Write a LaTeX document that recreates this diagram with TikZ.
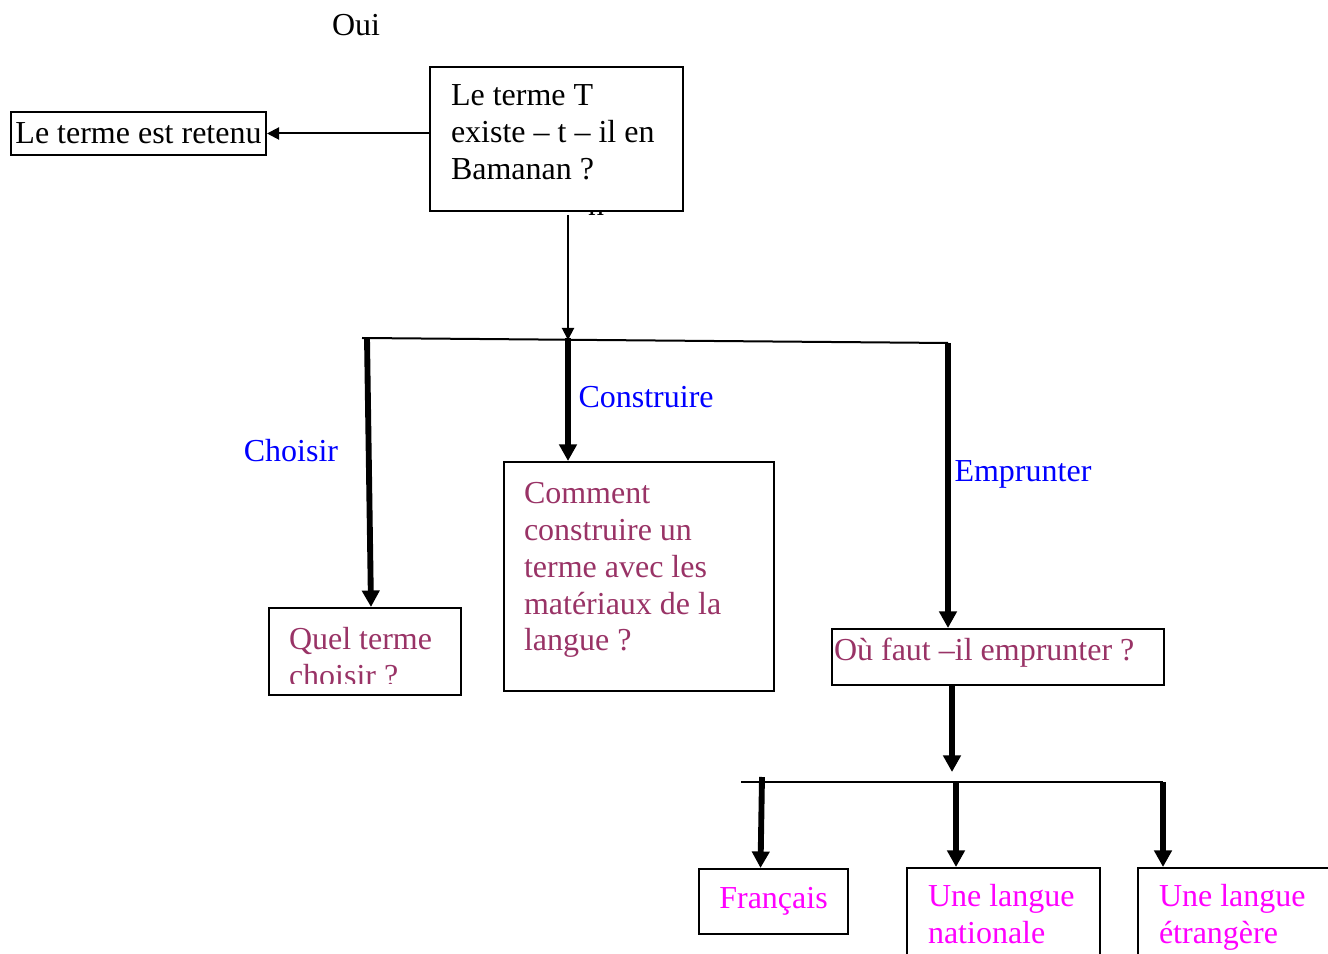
\documentclass[tikz,border=0pt]{standalone}
\usepackage{fontspec}
\setmainfont{Liberation Serif}
\usetikzlibrary{arrows.meta}
\usetikzlibrary{calc}
\definecolor{prune}{RGB}{153,51,102}
\definecolor{rose}{RGB}{255,0,255}
\newlength{\pxu}\setlength{\pxu}{0.375pt}
\newcommand{\cell}[3]{\parbox[c][#2\pxu][t]{#1\pxu}{\strut #3}}

\begin{document}
\begin{tikzpicture}[x=0.375pt,y=-0.375pt,
  every node/.style={font=\fontsize{12}{13.8}\selectfont,inner sep=0pt},
  box/.style={draw,line width=0.75pt,fill=white,anchor=north west,align=left},
  link/.style={line width=0.75pt,-{Triangle[length=4.5pt,width=4.5pt]}},
  rule/.style={line width=0.75pt},
  bigarrow/.style={line width=2.2pt,-{Triangle[length=6.2pt,width=6.4pt]}}]

\useasboundingbox (0,0) rectangle (1328,954);

\node (oui) at (356,25) {Oui};
\node[anchor=base] (non) at (596,216) {n};

\node[box,inner xsep=21\pxu,inner ysep=13\pxu] (main) at (429,66)
  {\cell{211}{118}{Le terme T\\existe – t – il en\\Bamanan ?}};
\node[box,anchor=center,minimum width=255\pxu,minimum height=43\pxu] (retenu) at (138.5,133.5) {Le terme est retenu};

\node[box,text=prune,inner xsep=20\pxu,inner ysep=16\pxu] (quel) at (268,607)
  {\cell{152}{55}{Quel terme\\choisir ?}};
\node[box,text=prune,inner xsep=20\pxu,inner ysep=16\pxu] (comment) at (503,461)
  {\cell{230}{197}{Comment\\construire un\\terme avec les\\matériaux de la\\langue ?}};
\node[box,text=prune,inner xsep=2\pxu,inner ysep=6\pxu] (ou) at (831,628)
  {\cell{328}{44}{Où faut –il emprunter ?}};

\node[box,text=rose,anchor=center,minimum width=149\pxu,minimum height=65\pxu] (francais) at (773.5,901.5) {Français};
\node[box,text=rose,inner xsep=21\pxu,inner ysep=13\pxu] (nationale) at (906,867)
  {\cell{151}{200}{Une langue\\nationale}};
\node[box,text=rose,inner xsep=21\pxu,inner ysep=13\pxu] (etrangere) at (1137,867)
  {\cell{170}{200}{Une langue\\étrangère}};

% the text of this box is cut off at the bottom
\fill[white] ($(quel.south west)+(2,-2)$) rectangle ($(quel.south east)+(-2,-12)$);

\node[blue] (choisir) at (291,451) {Choisir};
\node[blue,anchor=west] (construire) at (578,397) {Construire};
\node[blue,anchor=west] (emprunter) at (954,474) {Emprunter};

% Oui / Non
\draw[link] (main.west |- retenu.east) -- (retenu.east);
\coordinate (stem) at (568,215);
\coordinate (split) at (568,340);
\draw[link] (stem) -- (split);

% three ways
\coordinate (barL) at (362,338);
\coordinate (barR) at (948,343);
\coordinate (brQ) at (367,338);
\draw[rule] (barL) -- (barR);
\draw[bigarrow] (brQ) -- ($(quel.north)+(6,0)$);
\draw[bigarrow] (568,338) -- (split |- comment.north);
\draw[bigarrow] (barR) -- (barR |- ou.north);

% where to borrow
\coordinate (fork) at (952,772);
\draw[bigarrow] (fork |- ou.south) -- (fork);
\coordinate (bar2L) at (741,782);
\coordinate (bar2R) at (1163,782);
\coordinate (brF) at (762,777);
\coordinate (brN) at (956,782);
\draw[rule] (bar2L) -- (bar2R);
\draw[bigarrow] (brF) -- ($(francais.north)+(-13,0)$);
\draw[bigarrow] (brN) -- (brN |- nationale.north);
\draw[bigarrow] (bar2R) -- (bar2R |- etrangere.north);

\end{tikzpicture}
\end{document}
